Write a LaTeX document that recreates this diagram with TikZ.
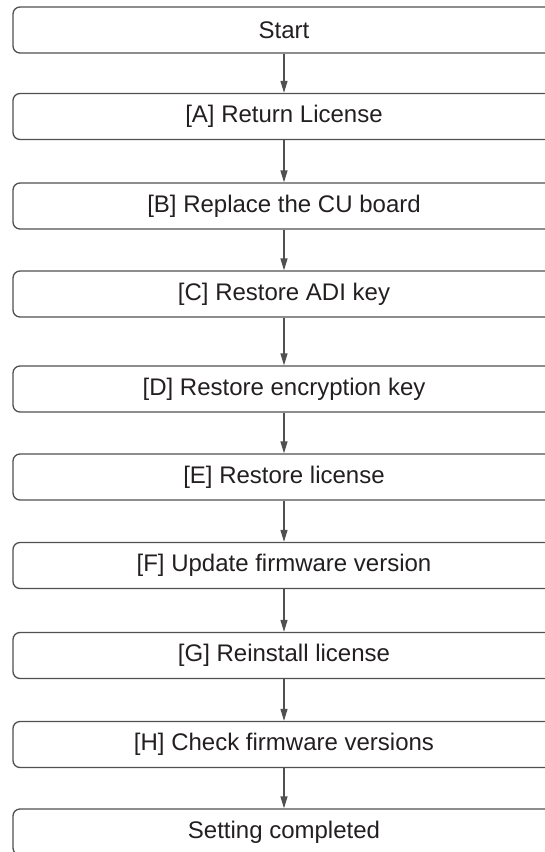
\documentclass[tikz,border=0pt]{standalone}
\usepackage{fontspec}
\setmainfont{Liberation Sans}
\usetikzlibrary{arrows.meta}
\definecolor{ink}{HTML}{231F20}
\definecolor{rulegray}{HTML}{505050}
\begin{document}
\begin{tikzpicture}[x=1pt, y=-1pt,
  every node/.style={font=\fontsize{24}{28}\selectfont, text=ink},
  stepbox/.style={draw=rulegray, line width=1.3pt, rounded corners=7pt,
    minimum width=542pt, minimum height=46pt, inner sep=0pt},
  flow/.style={draw=rulegray, line width=1.3pt, -{Triangle[length=12pt, width=7pt]}}]
  \useasboundingbox (0,0) rectangle (544,852);
  % steps of the procedure, top to bottom
  \node[stepbox] (start) at (284,30) {Start};
  \node[stepbox] (a) at (284,116.5) {[A] Return License};
  \node[stepbox] (b) at (284,206) {[B] Replace the CU board};
  \node[stepbox] (c) at (284,294) {[C] Restore ADI key};
  \node[stepbox] (d) at (284,389) {[D] Restore encryption key};
  \node[stepbox] (e) at (284,477) {[E] Restore license};
  \node[stepbox] (f) at (284,565.5) {[F] Update firmware version};
  \node[stepbox] (g) at (284,655.5) {[G] Reinstall license};
  \node[stepbox] (h) at (284,744.5) {[H] Check firmware versions};
  \node[stepbox] (done) at (284,832) {Setting completed};
  \draw[flow] (start) -- (a);
  \draw[flow] (a) -- (b);
  \draw[flow] (b) -- (c);
  \draw[flow] (c) -- (d);
  \draw[flow] (d) -- (e);
  \draw[flow] (e) -- (f);
  \draw[flow] (f) -- (g);
  \draw[flow] (g) -- (h);
  \draw[flow] (h) -- (done);
\end{tikzpicture}
\end{document}
